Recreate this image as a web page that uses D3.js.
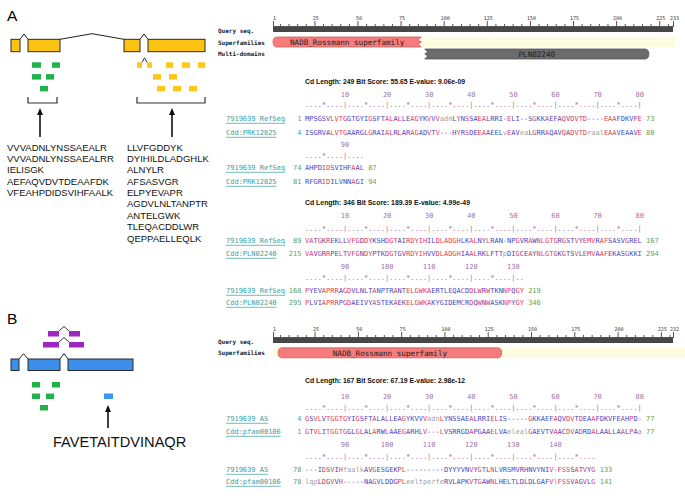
<!DOCTYPE html>
<html><head><meta charset="utf-8">
<script src="https://cdn.jsdelivr.net/npm/d3@7"></script>
<style>body{margin:0;background:#fff}svg{display:block}</style>
</head><body><svg id="c" width="685" height="496"></svg>
<script>
// ---------------- DATA ----------------
const exonsA = [[0,90],[170,490],[1130,1290],[1370,1940]];
const exonsB = [[0,80],[170,490],[570,1220]];
const pepGreenA = [{row:0,segs:[[210,300]]},{row:0,segs:[[410,490]]},{row:1,segs:[[210,300]]},{row:1,segs:[[350,430]]},{row:2,segs:[[290,370]]}];
const pepYellowA = [{row:0,segs:[[1260,1310],[1360,1410]]},{row:0,segs:[[1550,1620]]},{row:0,segs:[[1710,1790]]},{row:0,segs:[[1870,1940]]},
  {row:1,segs:[[1420,1500]]},{row:1,segs:[[1580,1660]]},{row:2,segs:[[1460,1540]]},{row:2,segs:[[1620,1700]]},{row:2,segs:[[1780,1860]]}];
const pepPurpleB = [{row:0,segs:[[370,480],[580,690]]},{row:1,segs:[[320,480],[580,730]]}];
const pepGreenB = [{row:0,segs:[[210,290]]},{row:0,segs:[[410,490]]},{row:1,segs:[[210,290]]},{row:1,segs:[[350,430]]},{row:2,segs:[[290,370]]}];
const pepBlueB = [{row:1,segs:[[930,1020]]}];
const listGreenA = ["VVVADNLYNSSAEALR","VVVADNLYNSSAEALRR","IELISGK","AEFAQVDVTDEAAFDK","VFEAHPDIDSVIHFAALK"];
const listYellowA = ["LLVFGDDYK","DYIHILDLADGHLK","ALNYLR","AFSASVGR","ELPYEVAPR","AGDVLNLTANPTR","ANTELGWK","TLEQACDDLWR","QEPPAELLEQLK"];
const uniquePeptideB = "FAVETAITDVINAQR";

const rulerTicksA = [1,25,50,75,100,125,150,175,200,225,233];
const rulerTicksB = [1,25,50,75,100,125,150,175,200,225,232];
const superA = [{name:"NADB_Rossmann superfamily",start:1,end:87}];
const bandA = [{start:87,end:233}];
const multiA = [{name:"PLN02240",start:89,end:219}];
const superB = [{name:"NADB_Rossmann superfamily",start:4,end:133}];
const bandB = [{start:1,end:239}];

const headerA1 = "Cd Length: 249  Bit Score: 55.65  E-value: 9.06e-09";
const namesA1 = ["7919639 RefSeq","Cdd:PRK12825"];
const qA1 = [[1,"MPSGSVLVTGGTGYIGSFTALALLEAGYKVVVadnLYNSSAEALRRI-ELI--SGKKAEFAQVDVTD----EAAFDKVFE",73],[74,"AHPDIDSVIHFAAL",87]];
const sA1 = [[4,"ISGRVALVTGAARGLGRAIALRLARAGADVTV---HYRSDEEAAEELvEAVeaLGRRAQAVQADVTDraalEAAVEAAVE",80],[81,"RFGRIDILVNNAGI",94]];

const headerA2 = "Cd Length: 346  Bit Score: 189.39  E-value: 4.99e-49";
const namesA2 = ["7919639 RefSeq","Cdd:PLN02240"];
const qA2 = [[89,"VATGKREKLLVFGDDYKSHDGTAIRDYIHILDLADGHLKALNYLRAN-NPGVRAWNLGTGRGSTVYEMVRAFSASVGREL",167],[168,"PYEVAPRRAGDVLNLTANPTRANTELGWKAERTLEQACDDLWRWTKNNPQGY",219]];
const sA2 = [[215,"VAVGRRPELTVFGNDYPTKDGTGVRDYIHVVDLADGHIAALRKLFTTpDIGCEAYNLGTGKGTSVLEMVAAFEKASGKKI",294],[295,"PLVIAPRRPGDAEIVYASTEKAEKELGWKAKYGIDEMCRDQWNWASKNPYGY",346]];

const headerB = "Cd Length: 167  Bit Score: 67.19  E-value: 2.98e-12";
const namesB = ["7919639 AS","Cdd:pfam00106"];
const qB = [[4,"GSVLVTGGTGYIGSFTALALLEAGYKVVVadnLYNSSAEALRRIELIS-----GKKAEFAQVDVTDEAAFDKVFEAHPD-",77],[78,"---IDSVIHfaalkAVGESGEKPL---------DYYYVNVYGTLNLVRSMVRHNVYNIV-FSSSATVYG",133]];
const sB = [[1,"GTVLITGGTGGLGLALARWLAAEGARHLV---LVSRRGDAPGAAELVAelealGAEVTVAACDVADRDALAALLAALPAa",77],[78,"lqpLDGVVH-----NAGVLDDGPLeeltperfeRVLAPKVTGAWNLHELTLDLDLGAFVlFSSVAGVLG",141]];

// ---------------- DRAW ----------------
const svg = d3.select("#c");
svg.append("rect").attr("width",685).attr("height",496).attr("fill","#fff");
const SANS = "Liberation Sans, Arial, sans-serif";
const MONO = "DejaVu Sans Mono, monospace";
const bp = d3.scaleLinear().domain([0,1940]).range([11,205]);

function gene(exons, yTop, h, fill){
  const g = svg.append("g");
  exons.forEach((e,i)=>{
    if(i>0){
      const x0 = bp(exons[i-1][1]), x1 = bp(e[0]);
      const peak = (x1-x0)>40 ? 5.6 : 5.3;
      g.append("path").attr("d",`M${x0},${yTop}L${(x0+x1)/2},${yTop-peak}L${x1},${yTop}`)
        .attr("fill","none").attr("stroke","#222").attr("stroke-width",1);
    }
  });
  g.selectAll("rect").data(exons).join("rect")
    .attr("x",d=>bp(d[0])).attr("width",d=>bp(d[1])-bp(d[0]))
    .attr("y",yTop).attr("height",h).attr("fill",fill).attr("stroke","#2a2a2a").attr("stroke-width",1);
}
function peptides(list, y0, dy, fill){
  const g = svg.append("g");
  list.forEach(p=>{
    const y = y0 + p.row*dy;
    p.segs.forEach((s,i)=>{
      g.append("rect").attr("x",bp(s[0])).attr("width",bp(s[1])-bp(s[0])).attr("y",y).attr("height",5.5).attr("fill",fill);
      if(i>0){
        const x0=bp(p.segs[i-1][1]), x1=bp(s[0]);
        g.append("path").attr("d",`M${x0},${y}L${(x0+x1)/2},${y-4.5}L${x1},${y}`).attr("fill","none").attr("stroke","#333").attr("stroke-width",1);
      }
    });
  });
}
function bracket(s,e,top,bot){
  svg.append("path").attr("d",`M${bp(s)},${top}V${bot}H${bp(e)}V${top}`).attr("fill","none").attr("stroke","#333").attr("stroke-width",1.2);
}
function arrow(pos,yTip,yTail){
  const x = bp(pos);
  svg.append("line").attr("x1",x).attr("x2",x).attr("y1",yTail).attr("y2",yTip+5).attr("stroke","#111").attr("stroke-width",1.6);
  svg.append("path").attr("d",`M${x},${yTip}L${x-3},${yTip+7}L${x+3},${yTip+7}Z`).attr("fill","#111");
}

// Panel labels
svg.append("text").attr("x",7).attr("y",21).attr("font-family",SANS).attr("font-size",15.5).text("A");
svg.append("text").attr("x",7).attr("y",323.5).attr("font-family",SANS).attr("font-size",15.5).text("B");

// Panel A left
gene(exonsA, 39.3, 12.4, "#fcc412");
peptides(pepGreenA, 62.3, 11.8, "#22b24c");
peptides(pepYellowA, 62.3, 11.8, "#fdc618");
bracket(170,460,97,103);
bracket(1260,1940,97,103);
arrow(290,108,137);
arrow(1610,108,137);
const lh = 11.35;
svg.append("g").selectAll("text").data(listGreenA).join("text")
  .attr("x",7).attr("y",(d,i)=>150.7+i*lh).attr("font-family",SANS).attr("font-size",9.5).attr("fill","#111").text(d=>d);
svg.append("g").selectAll("text").data(listYellowA).join("text")
  .attr("x",127).attr("y",(d,i)=>150.7+i*lh).attr("font-family",SANS).attr("font-size",9.5).attr("fill","#111").text(d=>d);

// Panel B left
peptides(pepPurpleB, 331, 11, "#9e27c2");
gene(exonsB, 359, 11.5, "#3b8fe8");
peptides(pepGreenB, 382, 11.5, "#22b24c");
peptides(pepBlueB, 382, 11.5, "#3a96ee");
arrow(970,405,428);
svg.append("text").attr("x",53).attr("y",447).attr("font-family",SANS).attr("font-size",14.6).attr("fill","#111").text(uniquePeptideB);

// ---------------- Right: graphic summary ----------------
function ruler(yBar, ticks){
  const maxV = ticks[ticks.length-1];
  const r = d3.scaleLinear().domain([1,maxV]).range([273,673]);
  svg.append("rect").attr("x",273).attr("y",yBar).attr("width",400).attr("height",5).attr("fill","#474747");
  const minor = d3.range(5,maxV,5).filter(v=>v%25!==0);
  const gm = svg.append("g").attr("transform",`translate(0,${yBar})`)
    .call(d3.axisTop(r).tickValues(minor).tickSize(3).tickFormat(""));
  gm.select(".domain").remove();
  gm.selectAll("line").attr("stroke","#555");
  const gM = svg.append("g").attr("transform",`translate(0,${yBar})`)
    .call(d3.axisTop(r).tickValues(ticks).tickSize(6).tickPadding(1.5));
  gM.select(".domain").attr("d",`M273,-0.5H673`).attr("stroke","#555");
  gM.selectAll("line").attr("stroke","#555");
  gM.selectAll("text").attr("font-family",MONO).attr("font-size",5).attr("fill","#333").attr("dx",1);
  return r;
}
function trackLabel(txt,y){
  svg.append("text").attr("x",218).attr("y",y).attr("dominant-baseline","central")
    .attr("font-family",MONO).attr("font-weight","bold").attr("font-size",6).attr("fill","#222").text(txt);
}
function domainShape(r, d, y, h, fill, stroke, leftCut, rightCut){
  const x0=r(d.start), x1=r(d.end), m=y+h/2;
  let p = "";
  if(leftCut){ p += `M${x0},${y}L${x0+3},${y+h*0.3}L${x0},${m}L${x0+3},${y+h*0.7}L${x0},${y+h}`; }
  else { p += `M${x0+4},${y}Q${x0},${y} ${x0},${m}Q${x0},${y+h} ${x0+4},${y+h}`; }
  if(rightCut){ p += `L${x1},${y+h}L${x1-3},${y+h*0.7}L${x1},${m}L${x1-3},${y+h*0.3}L${x1},${y}Z`; }
  else { p += `L${x1-4},${y+h}Q${x1},${y+h} ${x1},${m}Q${x1},${y} ${x1-4},${y}Z`; }
  svg.append("path").attr("d",p).attr("fill",fill).attr("stroke",stroke).attr("stroke-width",0.8);
  if(d.name) svg.append("text").attr("x",(x0+x1)/2).attr("y",m+0.3).attr("text-anchor","middle").attr("dominant-baseline","central")
    .attr("font-family",MONO).attr("font-size",7.6).attr("fill","#222").text(d.name);
}

// A summary
const rA = ruler(27, rulerTicksA);
trackLabel("Query seq.",30);
trackLabel("Superfamilies",42);
trackLabel("Multi-domains",53.5);
bandA.forEach(b=>svg.append("rect").attr("x",rA(b.start)).attr("y",37).attr("width",rA(b.end)-rA(b.start)+2).attr("height",10).attr("fill","#fdfbe0"));
superA.forEach(d=>domainShape(rA,d,37,10,"#f47c7c","#d75b5b",false,true));
multiA.forEach(d=>domainShape(rA,d,49,10,"#6b6b6b","#555",true,false));

// B summary
const rB = ruler(338, rulerTicksB);
trackLabel("Query seq.",341.5);
trackLabel("Superfamilies",352.5);
bandB.forEach(b=>svg.append("rect").attr("x",rB(b.start)).attr("y",347.5).attr("width",rB(b.end)-rB(b.start)).attr("height",10.5).attr("fill","#fdfbe0"));
superB.forEach(d=>domainShape(rB,d,347.8,10,"#f47c7c","#d75b5b",false,false));

// ---------------- Alignments ----------------
const CW = 4.21;
const col = d3.scaleLinear().domain([0,1]).range([305,305+CW]);
const RED="#e4405c", BLUE="#4a4ac4", GRAY="#a0a0a0", GREEN="#5ea25e", PURP="#a274a2", TEAL="#3a9e9e";

function header(txt,y,len){
  svg.append("text").attr("x",305).attr("y",y).attr("dominant-baseline","central")
    .attr("font-family",SANS).attr("font-weight","bold").attr("font-size",7.6).attr("fill","#111")
    .attr("textLength",len).attr("lengthAdjust","spacingAndGlyphs").text(txt);
}
function chunk(offset, qrow, srow, names, ys){
  const n = Math.max(qrow[1].length, srow[1].length);
  const idx = d3.range(n);
  // number row
  const g = svg.append("g").attr("font-family",MONO).attr("font-size",7);
  g.selectAll("text.num").data(idx.filter(i=>(offset+i+1)%10===0)).join("text")
    .attr("x",i=>col(i)+CW/2).attr("y",ys[0]).attr("text-anchor","middle").attr("dominant-baseline","central")
    .attr("fill",PURP).text(i=>offset+i+1);
  // dots
  g.selectAll("text.dot").data(idx).join("text")
    .attr("x",i=>col(i)).attr("y",ys[1]).attr("dominant-baseline","central").attr("fill",PURP)
    .text(i=>{const k=offset+i+1; return k%10===0?"|":(k%5===0?"*":".");});
  [qrow,srow].forEach((row,ri)=>{
    const other = ri===0?srow[1]:qrow[1];
    const y = ys[2+ri];
    const nm = names[ri];
    g.append("text").attr("x",226).attr("y",y).attr("dominant-baseline","central").attr("fill",TEAL).text(nm);
    g.append("line").attr("x1",226).attr("x2",226+nm.length*CW).attr("y1",y+4.3).attr("y2",y+4.3).attr("stroke",TEAL).attr("stroke-width",0.7);
    g.append("text").attr("x",301.5).attr("y",y).attr("text-anchor","end").attr("dominant-baseline","central").attr("fill",GREEN).text(row[0]);
    const chars = row[1].split("");
    g.append("g").selectAll("text").data(chars).join("text")
      .attr("x",(c,i)=>col(i)).attr("y",y).attr("dominant-baseline","central")
      .attr("fill",(c,i)=>{
        if(c===c.toLowerCase() && c!=="-") return GRAY;
        if(c!=="-" && other[i]===c) return RED;
        return BLUE;
      }).text(c=>c);
    g.append("text").attr("x",col(chars.length)+CW).attr("y",y).attr("dominant-baseline","central").attr("fill",GREEN).text(row[2]);
  });
}

header(headerA1,81,160);
chunk(0,qA1[0],sA1[0],namesA1,[95,105,119,133]);
chunk(80,qA1[1],sA1[1],namesA1,[145,156,168,182]);
header(headerA2,202,165);
chunk(0,qA2[0],sA2[0],namesA2,[216,229,241,254]);
chunk(80,qA2[1],sA2[1],namesA2,[267,278,291,303]);
header(headerB,380,160);
chunk(0,qB[0],sB[0],namesB,[397,408,419,432]);
chunk(80,qB[1],sB[1],namesB,[445,457,470,482]);
</script></body></html>
